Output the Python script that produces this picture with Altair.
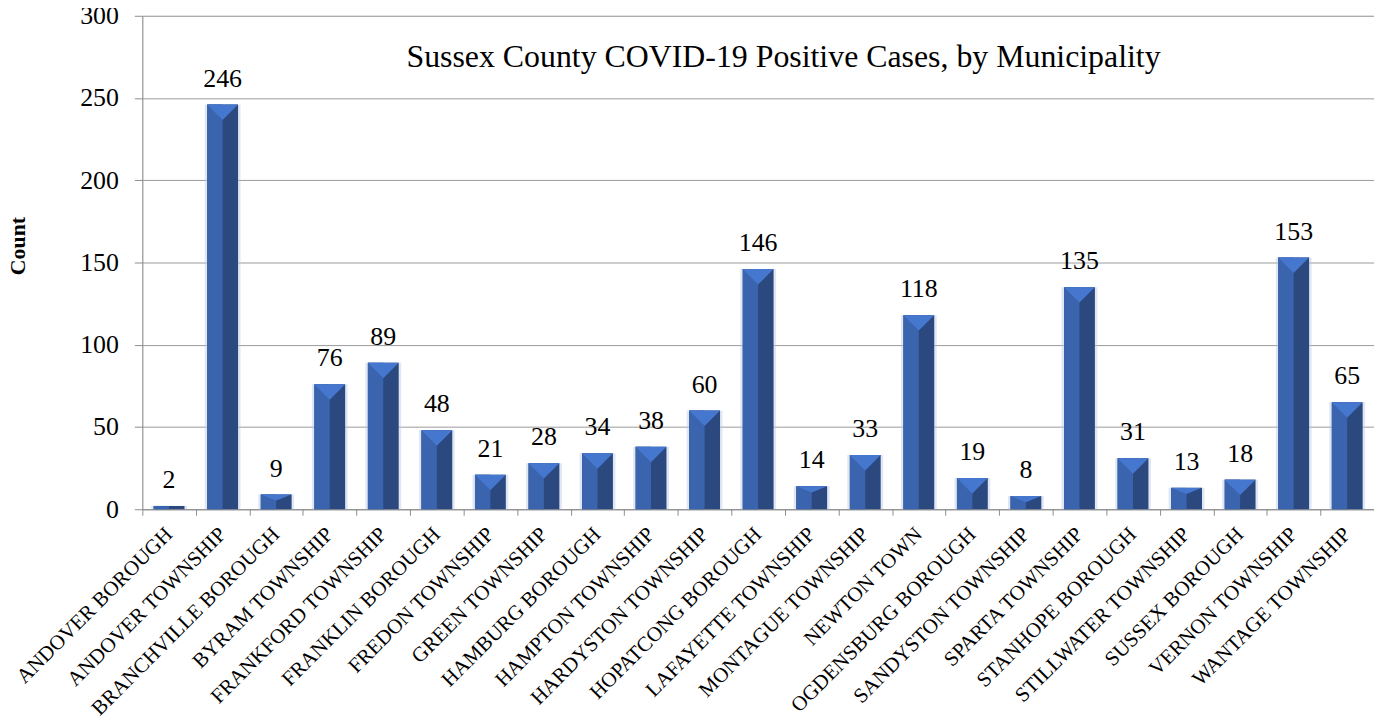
import altair as alt
import pandas as pd

municipalities = [
    "ANDOVER BOROUGH", "ANDOVER TOWNSHIP", "BRANCHVILLE BOROUGH", "BYRAM TOWNSHIP",
    "FRANKFORD TOWNSHIP", "FRANKLIN BOROUGH", "FREDON TOWNSHIP", "GREEN TOWNSHIP",
    "HAMBURG BOROUGH", "HAMPTON TOWNSHIP", "HARDYSTON TOWNSHIP", "HOPATCONG BOROUGH",
    "LAFAYETTE TOWNSHIP", "MONTAGUE TOWNSHIP", "NEWTON TOWN", "OGDENSBURG BOROUGH",
    "SANDYSTON TOWNSHIP", "SPARTA TOWNSHIP", "STANHOPE BOROUGH", "STILLWATER TOWNSHIP",
    "SUSSEX BOROUGH", "VERNON TOWNSHIP", "WANTAGE TOWNSHIP",
]
cases = [2, 246, 9, 76, 89, 48, 21, 28, 34, 38, 60, 146, 14, 33, 118, 19, 8, 135, 31, 13, 18, 153, 65]
y_ticks = [0, 50, 100, 150, 200, 250, 300]
title_text = ["Sussex County COVID-19 Positive Cases, by Municipality"]

df = pd.DataFrame({"m": municipalities, "v": cases})
FONT = "'Liberation Serif', 'Times New Roman', Times, serif"
W, H = 1238, 496

x_enc = alt.X(
    "m:N", sort=municipalities,
    scale=alt.Scale(paddingInner=0.0, paddingOuter=0.0),
    axis=alt.Axis(
        title=None, labelAngle=-45, labelFont=FONT, labelFontSize=21, labelColor="black",
        tickBand="extent", tickSize=6, tickColor="#8c8c8c", domainColor="#8c8c8c",
        labelPadding=8, labelOffset=-8, grid=False, labelLimit=400,
    ),
)
y_scale = alt.Scale(domain=[0, 300], nice=False)
y_axis = alt.Axis(
    values=y_ticks, title="Count", titleFont=FONT, titleFontSize=22, titleFontWeight="bold",
    titleColor="black", titleAngle=-90, titleX=-125, titleY=231, titleAlign="center",
    titleBaseline="middle",
    labelFont=FONT, labelFontSize=26, labelColor="black", labelPadding=16,
    tickSize=8, tickColor="#8c8c8c", domainColor="#8c8c8c",
    grid=True, gridColor="#9a9a9a", gridWidth=1,
)

base = alt.Chart(df)

glow = base.mark_bar(width=36, color="#b9c8e6", opacity=0.45).encode(
    x=x_enc, y=alt.Y("v:Q", scale=y_scale, axis=y_axis)
)
dark = base.mark_bar(width=31, color="#2b487f").encode(x=x_enc, y=alt.Y("v:Q", scale=y_scale))
light = base.mark_bar(width=15.5, xOffset=-7.75, color="#3a64ae").encode(
    x=x_enc, y=alt.Y("v:Q", scale=y_scale)
)
tri = base.transform_filter("datum.v >= 17").mark_point(
    shape="M -1 0 L 1 0 L 0 1 Z", size=961, filled=True, opacity=1, color="#4677cf", strokeWidth=0
).encode(x=x_enc, y=alt.Y("v:Q", scale=y_scale))
small_tri = base.transform_filter("datum.v < 17 && datum.v > 5").mark_point(
    shape="M -1 0 L 1 0 L 0 0.4 Z", size=961, filled=True, opacity=1, color="#4677cf", strokeWidth=0
).encode(x=x_enc, y=alt.Y("v:Q", scale=y_scale))
labels = base.mark_text(
    font=FONT, fontSize=26, color="black", baseline="alphabetic", dy=-18
).encode(x=x_enc, y=alt.Y("v:Q", scale=y_scale), text="v:Q")

title = alt.Chart(pd.DataFrame({"t": title_text})).mark_text(
    font=FONT, fontSize=32, color="black", baseline="alphabetic", align="center"
).encode(x=alt.value(644.5), y=alt.value(51), text="t:N")

chart = alt.layer(glow, dark, light, tri, small_tri, labels, title).properties(
    width=W, height=H,
    autosize=alt.AutoSizeParams(type="none"),
    padding={"left": 135, "top": 6, "right": 0, "bottom": 208},
).configure_view(stroke=None).configure(background="white")

chart.save("out.html", embed_options={"renderer": "svg", "actions": False})
